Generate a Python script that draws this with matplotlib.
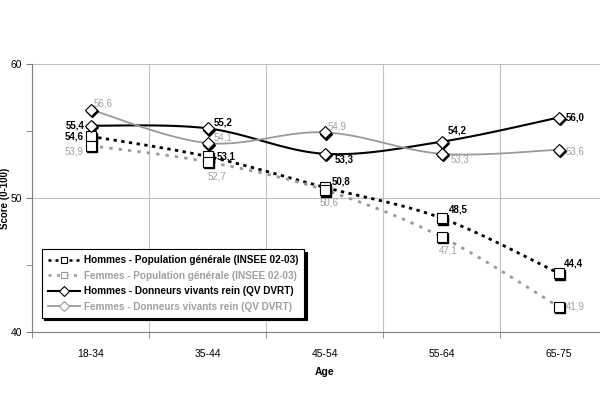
import numpy as np
import matplotlib
matplotlib.use("Agg")
import matplotlib.pyplot as plt
from matplotlib.transforms import offset_copy

plt.rcParams['font.family'] = ['Liberation Sans', 'DejaVu Sans']

# data
ages = ['18-34', '35-44', '45-54', '55-64', '65-75']
hommes_pop = [54.6, 53.1, 50.8, 48.5, 44.4]
femmes_pop = [53.9, 52.7, 50.6, 47.1, 41.9]
hommes_dv = [55.4, 55.2, 53.3, 54.2, 56.0]
femmes_dv = [56.6, 54.1, 54.9, 53.3, 53.6]

names = ['Hommes - Population générale (INSEE 02-03)',
         'Femmes - Population générale (INSEE 02-03)',
         'Hommes - Donneurs vivants rein (QV DVRT)',
         'Femmes - Donneurs vivants rein (QV DVRT)']

# label offsets in pixels (dx, dy, ha)
off_hp = [(-7, 0, 'right'), (9, 0, 'left'), (7, 6, 'left'), (7, 9, 'left'), (5, 10, 'left')]
off_fp = [(-7, -6, 'right'), (9, -15, 'center'), (4, -13, 'center'), (7, -14, 'center'), (7, 0, 'left')]
off_hd = [(-6, 0, 'right'), (6, 6, 'left'), (10, -6, 'left'), (6, 11, 'left'), (7, 0, 'left')]
off_fd = [(3, 6, 'left'), (6, 6, 'left'), (3, 6, 'left'), (9, -6, 'left'), (7, -2, 'left')]

GRAY = '#9a9a9a'
GRAY_TXT = '#a0a0a0'


def smooth(y, n=30):
    # Catmull-Rom through the points (Excel-like smoothed line)
    y = np.asarray(y, float)
    x = np.arange(len(y), dtype=float)
    P = np.column_stack([x, y])
    P = np.vstack([P[0], P, P[-1]])
    out = []
    for i in range(1, len(P) - 2):
        p0, p1, p2, p3 = P[i - 1], P[i], P[i + 1], P[i + 2]
        c1 = p1 + (p2 - p0) / 6
        c2 = p2 - (p3 - p1) / 6
        t = np.linspace(0, 1, n)[:, None]
        seg = (1 - t) ** 3 * p1 + 3 * (1 - t) ** 2 * t * c1 + 3 * (1 - t) * t ** 2 * c2 + t ** 3 * p2
        out.append(seg if i == 1 else seg[1:])
    out = np.vstack(out)
    return out[:, 0], out[:, 1]


fig = plt.figure(figsize=(6.0, 3.98), dpi=100)
ax = fig.add_axes([32 / 600, 66 / 398, 585 / 600, 268 / 398])

xs = np.arange(len(ages))
shadow_tr = offset_copy(ax.transData, fig=fig, x=1.6, y=-1.6, units='dots')

series = [
    (hommes_pop, 'black', (0, (1.2, 1.6)), 2.0, 's', 'black', True, off_hp),
    (femmes_pop, GRAY, (0, (1.2, 2.2)), 2.0, 's', GRAY_TXT, False, off_fp),
    (hommes_dv, 'black', '-', 1.5, 'D', 'black', True, off_hd),
    (femmes_dv, GRAY, '-', 1.3, 'D', GRAY_TXT, False, off_fd),
]

handles = []
for vals, col, ls, lw, mk, tcol, bold, offs in series:
    sx, sy = smooth(vals)
    ax.plot(sx, sy, color=col, linestyle=ls, linewidth=lw, zorder=3)
    ms = 6.5
    ax.plot(xs, vals, linestyle='none', marker=mk, markersize=ms,
            markerfacecolor='black', markeredgecolor='black',
            transform=shadow_tr, zorder=4)
    ax.plot(xs, vals, linestyle='none', marker=mk, markersize=ms,
            markerfacecolor='white', markeredgecolor='black',
            markeredgewidth=0.8, zorder=5)
    h, = ax.plot([], [], color=col, linestyle=ls, linewidth=lw if ls == '-' else 1.8,
                 marker=mk, markersize=5, markerfacecolor='white',
                 markeredgecolor=col, markeredgewidth=0.8)
    handles.append(h)
    for xi, v, (dx, dy, ha) in zip(xs, vals, offs):
        ax.annotate(f'{v:.1f}'.replace('.', ','), (xi, v), xytext=(dx, dy),
                    textcoords='offset pixels', ha=ha, va='center',
                    fontsize=7, fontweight='bold' if bold else 'normal',
                    color=tcol, zorder=6)

ax.set_xlim(-0.5, 4.5)
ax.set_ylim(40, 60)
ax.set_xticks(xs)
ax.set_xticklabels(ages, fontsize=7.5)
ax.set_xticks(np.arange(-0.5, 5.0, 1.0), minor=True)
ax.tick_params(axis='x', which='major', length=0, pad=12)
ax.tick_params(axis='x', which='minor', length=4, color='#808080')
ax.set_yticks([40, 50, 60])
ax.set_yticks([45, 55], minor=True)
ax.tick_params(axis='y', which='both', length=4, color='#808080', labelsize=7.5, pad=3)
ax.grid(True, axis='x', which='minor', color='#c0c0c0', linewidth=0.8)
ax.grid(True, axis='y', which='major', color='#c0c0c0', linewidth=0.8)
ax.set_axisbelow(True)
for s in ['left', 'bottom']:
    ax.spines[s].set_color('#808080')
ax.spines['top'].set_visible(False)
ax.spines['right'].set_visible(False)

ax.set_xlabel('Age', fontsize=7.5, fontweight='bold', labelpad=6)
fig.text(5 / 600, 1 - 198 / 398, 'Score (0-100)', rotation=90, ha='center', va='center',
         fontsize=7, fontweight='bold')

leg = ax.legend(handles, names, loc='lower left', bbox_to_anchor=(0.008, 0.035),
                fontsize=7.2, frameon=True, fancybox=False, shadow={'color': 'black', 'alpha': 1},
                handlelength=3.2, borderpad=0.6, labelspacing=0.55, handletextpad=0.4)
leg.get_frame().set_edgecolor('black')
leg.get_frame().set_linewidth(0.8)
for txt, tc in zip(leg.get_texts(), ['black', GRAY_TXT, 'black', GRAY_TXT]):
    txt.set_color(tc)
    txt.set_fontweight('bold')

fig.savefig('out.png', dpi=100)
